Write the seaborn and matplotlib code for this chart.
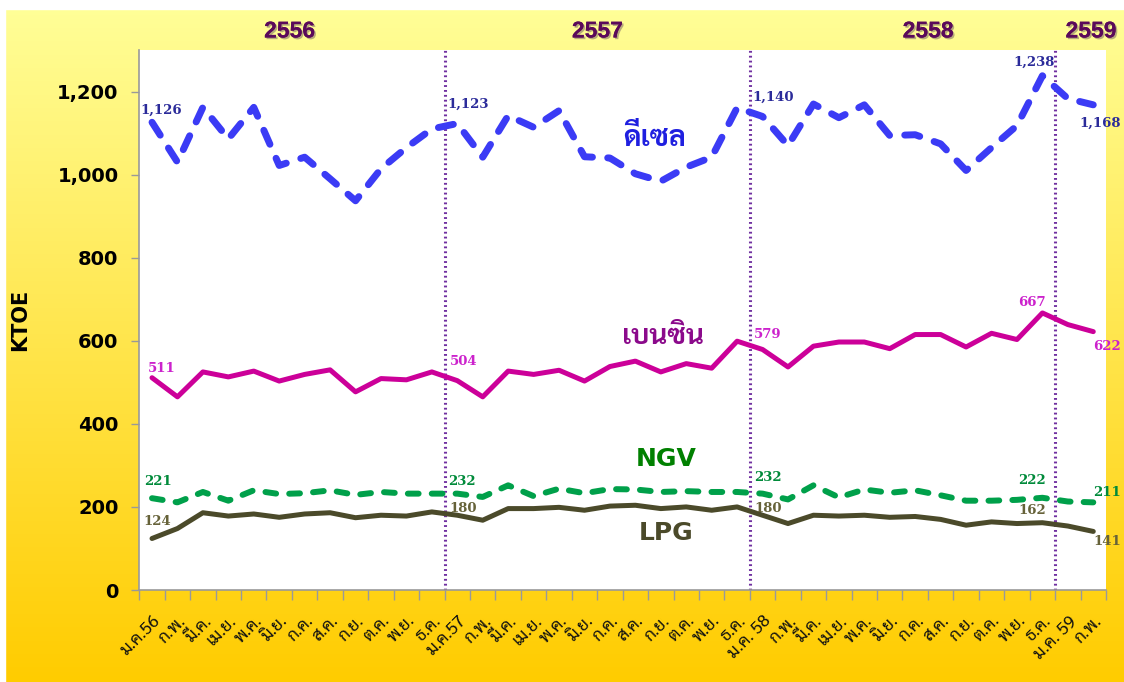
import matplotlib
matplotlib.use("Agg")
import matplotlib.pyplot as plt
import matplotlib.patheffects as pe
import matplotlib.transforms as mtransforms
from matplotlib.ticker import FixedLocator, FuncFormatter
import seaborn as sns
import numpy as np
import pandas as pd

# months ม.ค.56 .. ก.พ.59
month_labels = ["ม.ค.56", "ก.พ.", "มี.ค.", "เม.ย.", "พ.ค.", "มิ.ย.", "ก.ค.", "ส.ค.", "ก.ย.", "ต.ค.", "พ.ย.", "ธ.ค.",
                "ม.ค.57", "ก.พ.", "มี.ค.", "เม.ย.", "พ.ค.", "มิ.ย.", "ก.ค.", "ส.ค.", "ก.ย.", "ต.ค.", "พ.ย.", "ธ.ค.",
                "ม.ค. 58", "ก.พ.", "มี.ค.", "เม.ย.", "พ.ค.", "มิ.ย.", "ก.ค.", "ส.ค.", "ก.ย.", "ต.ค.", "พ.ย.", "ธ.ค.",
                "ม.ค. 59", "ก.พ."]

diesel = [1126, 1030, 1162, 1086, 1162, 1022, 1042, 990, 937, 1014, 1065, 1110,
          1123, 1042, 1142, 1114, 1154, 1043, 1040, 1002, 984, 1018, 1042, 1161,
          1140, 1070, 1170, 1137, 1168, 1094, 1096, 1074, 1010, 1065, 1118, 1238,
          1183, 1168]
benzin = [511, 465, 525, 513, 527, 503, 519, 530, 477, 509, 506, 525,
          504, 465, 527, 519, 529, 503, 538, 551, 525, 545, 534, 599,
          579, 537, 587, 597, 597, 581, 615, 615, 585, 618, 603, 667,
          639, 622]
ngv = [221, 211, 236, 215, 240, 231, 233, 240, 229, 236, 232, 232,
       232, 224, 252, 226, 244, 233, 243, 242, 236, 238, 236, 236,
       232, 218, 252, 223, 242, 234, 240, 228, 215, 215, 217, 222,
       213, 211]
lpg = [124, 148, 186, 178, 183, 175, 183, 186, 174, 180, 178, 188,
       180, 168, 196, 196, 199, 192, 202, 204, 196, 200, 192, 200,
       180, 160, 180, 178, 180, 175, 177, 170, 156, 164, 160, 162,
       154, 141]

years = ["2556", "2557", "2558", "2559"]
year_label_x = [5.4, 17.5, 30.5, 36.9]
year_breaks = [11.5, 23.5, 35.5]

series_names = ["ดีเซล", "เบนซิน", "NGV", "LPG"]

# labelled points: index -> offset (points), alignment
diesel_marks = {0: (-8.6, 8.4, "left"), 12: (-7, 13.5, "left"), 24: (-7, 14, "left"),
                35: (-6, 9.5, "center"), 37: (-10, -13.5, "left")}
benzin_marks = {0: (-3, 7, "left"), 12: (-5, 14, "left"), 24: (-6, 11, "left"),
                35: (-17.5, 7.5, "left"), 37: (0, -11, "left")}
ngv_marks = {0: (-6, 12, "left"), 12: (-6.5, 9, "left"), 24: (-6, 11.5, "left"),
             35: (-17.5, 12.5, "left"), 37: (0, 7, "left")}
lpg_marks = {0: (-6.5, 12.5, "left"), 12: (-6, 4.5, "left"), 24: (-6, 4.5, "left"),
             35: (-17, 9, "left"), 37: (0, -7, "left")}

sns.set_style("white")
plt.rcParams["font.family"] = ["DejaVu Sans"]
thai = ["Sarabun", "DejaVu Sans"]

x = np.arange(len(month_labels))
df = pd.DataFrame({"x": x, "diesel": diesel, "benzin": benzin, "ngv": ngv, "lpg": lpg})

fig = plt.figure(figsize=(11.24, 6.82), dpi=100)

# yellow gradient background with thin white border top/left
bg = fig.add_axes([0, 0, 1, 1], zorder=-10)
grad = np.linspace(0, 1, 256)[:, None]
top = np.array([1.0, 1.0, 0.60])
bot = np.array([1.0, 0.80, 0.0])
img = top[None, None, :] * (1 - grad[:, :, None]) + bot[None, None, :] * grad[:, :, None]
bg.imshow(img, aspect="auto", extent=[0, 1, 0, 1])
bg.axhspan(1 - 9 / 682, 1.0, color="white")
bg.axvspan(0, 5 / 1124, color="white")
bg.set_xlim(0, 1)
bg.set_ylim(0, 1)
bg.axis("off")

ax = fig.add_axes([139.3 / 1124, 1 - 590 / 682, 966.7 / 1124, 540 / 682])
ax.set_facecolor("white")

sns.lineplot(data=df, x="x", y="diesel", ax=ax, color="#3B3BF5", lw=5,
             linestyle=(0, (2.2, 2.2)), dash_capstyle="round", solid_capstyle="round", zorder=3)
sns.lineplot(data=df, x="x", y="benzin", ax=ax, color="#CC0099", lw=3.6,
             solid_capstyle="round", zorder=3)
sns.lineplot(data=df, x="x", y="ngv", ax=ax, color="#00A04A", lw=4.3,
             linestyle=(0, (1.8, 2.2)), dash_capstyle="round", zorder=3)
sns.lineplot(data=df, x="x", y="lpg", ax=ax, color="#4B4A2A", lw=3.6,
             solid_capstyle="round", zorder=3)

for xb in year_breaks:
    ax.axvline(xb, color="#7030A0", lw=2.2, linestyle=(0, (0.6, 1.0)), zorder=2)

ax.set_xlim(-0.5, len(month_labels) - 0.5)
ax.set_ylim(0, 1300)
ax.set_yticks(range(0, 1201, 200))
ax.yaxis.set_major_formatter(FuncFormatter(lambda v, p: f"{int(v):,}"))
ax.set_xticks(x)
ax.set_xticklabels(month_labels, rotation=45, ha="right", va="top", rotation_mode="anchor",
                   family=thai, fontsize=12.5, color="#111111")
shift = mtransforms.ScaledTranslation(-5 / 100, -1 / 100, fig.dpi_scale_trans)
for lab in ax.get_xticklabels():
    lab.set_transform(lab.get_transform() + shift)
ax.xaxis.set_minor_locator(FixedLocator(np.arange(-0.5, len(month_labels), 1.0)))
ax.tick_params(axis="x", which="major", length=0, pad=16)
ax.tick_params(axis="x", which="minor", length=7, width=1, color="#999999", direction="out", bottom=True)
ax.tick_params(axis="y", which="major", length=6, width=1, color="#999999", direction="out", left=True, pad=9)
for lab in ax.get_yticklabels():
    lab.set_fontweight("bold")
    lab.set_fontsize(14)
    lab.set_color("black")

for side in ["top", "right"]:
    ax.spines[side].set_visible(False)
for side in ["left", "bottom"]:
    ax.spines[side].set_color("#999999")
    ax.spines[side].set_linewidth(1.2)

ax.set_xlabel("")
ax.set_ylabel("KTOE", fontsize=15, fontweight="bold", color="black")
ax.yaxis.set_label_coords(-0.113, 0.5)

# value labels
def put_labels(values, marks, color):
    for i, (dx, dy, ha) in marks.items():
        ax.annotate(f"{values[i]:,}", xy=(i, values[i]), xytext=(dx, dy), textcoords="offset points",
                    ha=ha, va="center", fontsize=9.5, fontweight="bold", family="DejaVu Serif",
                    color=color, zorder=5)

put_labels(diesel, diesel_marks, "#2B2B9A")
put_labels(benzin, benzin_marks, "#CC22CC")
put_labels(ngv, ngv_marks, "#008A3A")
put_labels(lpg, lpg_marks, "#666239")

# series names
ax.text(19.75, 1086, series_names[0], ha="center", va="center", fontsize=20.5, fontweight="bold",
        family=thai, color="#1F1FE0")
ax.text(20.1, 608, series_names[1], ha="center", va="center", fontsize=20, fontweight="bold",
        family=thai, color="#8B0A8B")
ax.text(20.2, 315, series_names[2], ha="center", va="center", fontsize=18, fontweight="bold",
        color="#008000")
ax.text(20.2, 137, series_names[3], ha="center", va="center", fontsize=18, fontweight="bold",
        color="#4B4A2A")

# year labels above plot
trans = mtransforms.blended_transform_factory(ax.transData, fig.transFigure)
for yx, yl in zip(year_label_x, years):
    ax.text(yx, 1 - 31 / 682, yl, transform=trans, ha="center", va="center", fontsize=16.5,
            fontweight="bold", family=["Liberation Sans", "DejaVu Sans"], color="#5A0A5A", clip_on=False,
            path_effects=[pe.withSimplePatchShadow(offset=(1.2, -1.2), shadow_rgbFace="#9a8a70", alpha=0.7),
                          pe.Normal()])

fig.savefig("out.png", dpi=100)
